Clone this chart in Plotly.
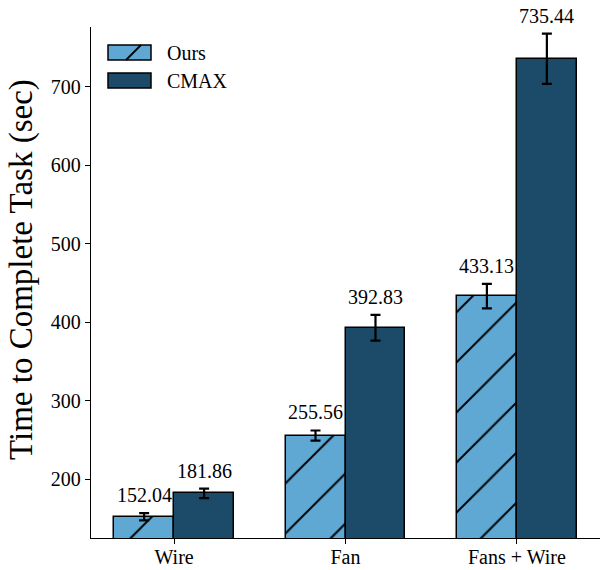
import plotly.graph_objects as go

categories = ["Wire", "Fan", "Fans + Wire"]
ours = [152.04, 255.56, 433.13]
ours_err = [4.6, 6.4, 15.5]
cmax = [181.86, 392.83, 735.44]
cmax_err = [6.0, 16.5, 32.0]
yticks = [200, 300, 400, 500, 600, 700]

OURS_COLOR = "#5fa8d4"
CMAX_COLOR = "#1c4a69"
FONT = "Liberation Serif"
BW = 0.35

xs = list(range(len(categories)))
fig = go.Figure()
fig.add_trace(go.Bar(
    x=[x - BW / 2 for x in xs], y=ours, width=BW, name="Ours",
    marker=dict(color=OURS_COLOR, line=dict(color="black", width=1.5),
                pattern=dict(shape="/", fgcolor="black", fgopacity=1, fillmode="overlay",
                             size=35.4, solidity=0.055)),
    error_y=dict(type="data", array=ours_err, color="black", thickness=2.2, width=5),
    showlegend=False,
))
fig.add_trace(go.Bar(
    x=[x + BW / 2 for x in xs], y=cmax, width=BW, name="CMAX",
    marker=dict(color=CMAX_COLOR, line=dict(color="black", width=1.5)),
    error_y=dict(type="data", array=cmax_err, color="black", thickness=2.2, width=5),
    showlegend=False,
))

for x, v, e in zip(xs, ours, ours_err):
    fig.add_annotation(x=x - BW / 2, y=v + e, text=f"{v:.2f}", showarrow=False,
                       yanchor="bottom", yshift=5, font=dict(family=FONT, size=20, color="black"))
for x, v, e in zip(xs, cmax, cmax_err):
    fig.add_annotation(x=x + BW / 2, y=v + e, text=f"{v:.2f}", showarrow=False,
                       yanchor="bottom", yshift=5, font=dict(family=FONT, size=20, color="black"))

W, H = 600, 570
L, R, T, B = 91, 0, 27, 32
pw, ph = W - L - R, H - T - B
def px(xp):
    return (xp - L) / pw
def py(yp):
    return 1 - (yp - T) / ph

# legend (drawn manually to mimic the wide matplotlib patches)
legend_items = [("Ours", OURS_COLOR, True), ("CMAX", CMAX_COLOR, False)]
for i, (name, col, hatch) in enumerate(legend_items):
    y0p = 45 + i * 28
    fig.add_shape(type="rect", xref="paper", yref="paper",
                  x0=px(108), x1=px(151), y0=py(y0p + 15), y1=py(y0p),
                  fillcolor=col, line=dict(color="black", width=1.5))
    if hatch:
        fig.add_shape(type="line", xref="paper", yref="paper",
                      x0=px(126), x1=px(141), y0=py(y0p + 15), y1=py(y0p),
                      line=dict(color="black", width=1.8))
    fig.add_annotation(xref="paper", yref="paper", x=px(165), y=py(y0p + 7.5),
                       text=name, showarrow=False, xanchor="left", yanchor="middle",
                       font=dict(family=FONT, size=20, color="black"))

# y-axis title
fig.add_annotation(xref="paper", yref="paper", x=px(21), y=py(270),
                   text="Time to Complete Task (sec)", textangle=-90, showarrow=False,
                   xanchor="center", yanchor="middle",
                   font=dict(family=FONT, size=33, color="black"))

fig.update_layout(
    width=W, height=H,
    margin=dict(l=L, r=R, t=T, b=B, autoexpand=False),
    plot_bgcolor="white", paper_bgcolor="white",
    font=dict(family=FONT, size=20, color="black"),
    bargap=0,
)
fig.update_xaxes(range=[-0.485, 2.485], tickvals=xs, ticktext=categories,
                 showline=True, linecolor="black", linewidth=1.3,
                 ticks="outside", ticklen=5, tickwidth=1.3, tickcolor="black",
                 showgrid=False, zeroline=False, tickfont=dict(size=20),
                 ticklabelstandoff=-4)
fig.update_yaxes(range=[125, 776], tickvals=yticks,
                 showline=True, linecolor="black", linewidth=1.3,
                 ticks="outside", ticklen=5, tickwidth=1.3, tickcolor="black",
                 showgrid=False, zeroline=False, tickfont=dict(size=20))

fig.write_html("out.html", config={"displayModeBar": False},
               post_script="document.body.style.margin='0px';document.body.style.overflow='hidden';")
